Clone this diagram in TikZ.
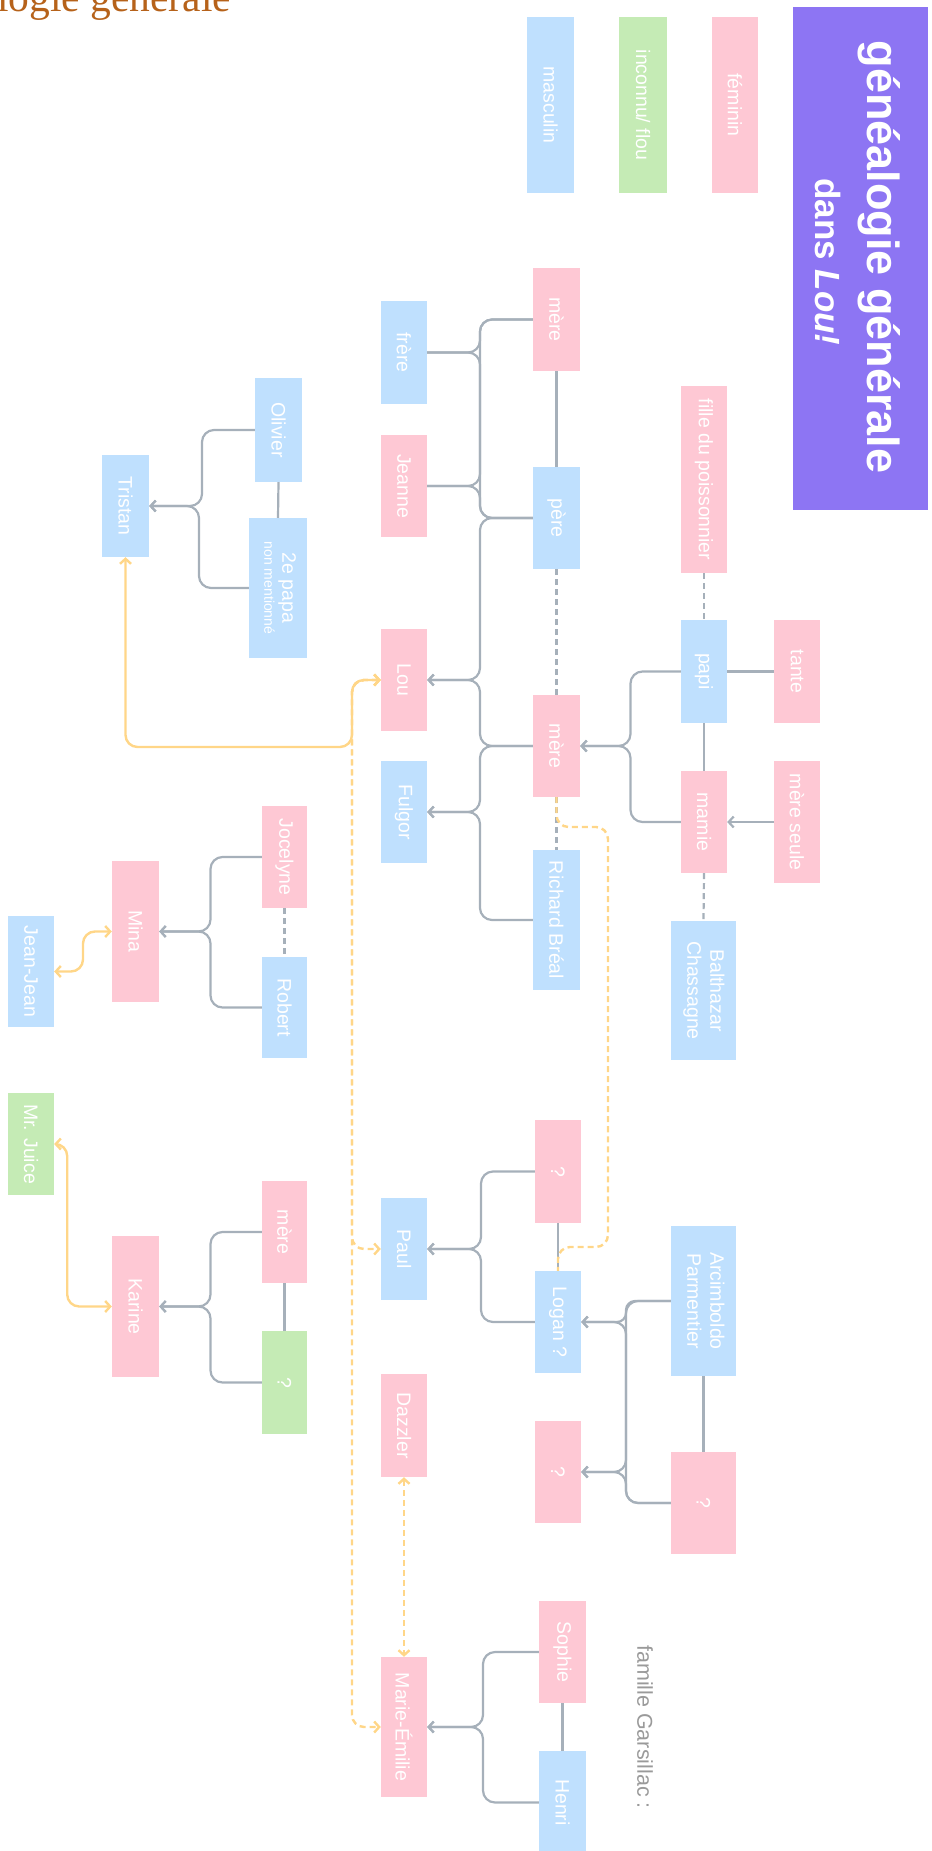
\documentclass[tikz,border=0pt]{standalone}
\usepackage{fontspec}
\setmainfont{Liberation Sans}
\newfontfamily\serifttl{Liberation Serif}
\usetikzlibrary{arrows.meta,calc}
\definecolor{pinkbox}{HTML}{FEC8D4}
\definecolor{bluebox}{HTML}{BFE0FE}
\definecolor{greenbox}{HTML}{C5EBB5}
\definecolor{purplebox}{HTML}{8D75F3}
\definecolor{linegrey}{HTML}{A6B0BA}
\definecolor{linkyellow}{HTML}{FFD688}
\definecolor{titlebrown}{HTML}{B6621A}
\definecolor{notegrey}{HTML}{9A9A9A}
\newcommand\vtxt[1]{\rotatebox{-90}{#1}}
\tikzset{
  pbox/.style={inner sep=0pt, text=white, font=\fontsize{19.5}{23}\selectfont},
  pk/.style={pbox, fill=pinkbox},
  bl/.style={pbox, fill=bluebox},
  gr/.style={pbox, fill=greenbox},
  sz/.style 2 args={minimum width=#1pt, minimum height=#2pt},
  fam/.style={to path={let \p1=(\tikztostart), \p2=(\tikztotarget) in
      -- ({0.5*\x1+0.5*\x2},\y1) -- ({0.5*\x1+0.5*\x2},\y2) -- (\tikztotarget)}},
  gl/.style={draw=linegrey, line width=2.2pt, rounded corners=12pt},
  ga/.style={gl, -{Straight Barb[length=5pt,width=11pt]}},
  gd/.style={draw=linegrey, line width=2.2pt, dash pattern=on 6pt off 4pt},
  yl/.style={draw=linkyellow, line width=2.4pt, rounded corners=12pt},
  y2/.style={yl, {Straight Barb[length=5pt,width=11pt]}-{Straight Barb[length=5pt,width=11pt]}},
  yd/.style={yl, dash pattern=on 6pt off 4pt},
  yd2/.style={yd, {Straight Barb[length=5pt,width=11pt]}-{Straight Barb[length=5pt,width=11pt]}}
}
\begin{document}
\begin{tikzpicture}[x=1pt,y=-1pt]
\useasboundingbox (0,0) rectangle (931,1851);
\clip (0,0) rectangle (931,1851);
% page title (cut off at the top edge, as in the reference)
\node[anchor=base west, text=titlebrown, font=\serifttl\fontsize{41.5}{44}\selectfont, inner sep=0pt] (pagetitle) at (-3,12) {logie générale};
% title box
\node[fill=purplebox, minimum width=135pt, minimum height=503pt, inner sep=0pt] (titlebox) at (860.5,258.5) {};
\node[rotate=-90, text=white, font=\bfseries\fontsize{45}{50}\selectfont, inner sep=0pt] (t1) at (879,257) {généalogie générale};
\node[rotate=-90, text=white, font=\bfseries\fontsize{35}{40}\selectfont, inner sep=0pt] (t2) at (828,262) {dans \textit{Lou!}};
% legend
\node[bl, sz={47}{176}] (masculin) at (550.5,105) {\vtxt{masculin}};
\node[gr, sz={48}{176}] (inconnu) at (643,105) {\vtxt{inconnu/ flou}};
\node[pk, sz={46}{176}] (feminin) at (735,105) {\vtxt{féminin}};
% main family
\node[pk, sz={47}{103}] (mereT) at (556.5,319.5) {\vtxt{mère}};
\node[bl, sz={47}{102}] (pere) at (556.5,518) {\vtxt{père}};
\node[bl, sz={46}{103}] (frere) at (404,352.5) {\vtxt{frère}};
\node[pk, sz={46}{102}] (jeanne) at (404,486) {\vtxt{Jeanne}};
\node[pk, sz={46}{187}] (fille) at (704,479.5) {\vtxt{fille du poissonnier}};
\node[pk, sz={46}{102}] (lou) at (404,680) {\vtxt{Lou}};
\node[bl, sz={46}{102}] (fulgor) at (404,812) {\vtxt{Fulgor}};
\node[pk, sz={47}{102}] (mereM) at (556.5,746) {\vtxt{mère}};
\node[bl, sz={47}{140}] (richard) at (556.5,920) {\vtxt{Richard Bréal}};
\node[bl, sz={46}{103}] (papi) at (704,671.5) {\vtxt{papi}};
\node[pk, sz={46}{103}] (tante) at (797,671.5) {\vtxt{tante}};
\node[pk, sz={46}{102}] (mamie) at (704,822) {\vtxt{mamie}};
\node[pk, sz={46}{122}] (mereSeule) at (797,822) {\vtxt{mère seule}};
\node[bl, sz={65}{139}] (balthazar) at (703.5,990.5) {\vtxt{\begin{tabular}{@{}c@{}}Balthazar\\Chassagne\end{tabular}}};
% Tristan
\node[bl, sz={47}{104}] (olivier) at (278.5,430) {\vtxt{Olivier}};
\node[bl, sz={58}{140}] (papa2) at (278,588) {\vtxt{\begin{tabular}{@{}c@{}}2e papa\\[-5pt]{\fontsize{14}{15}\selectfont non mentionné}\end{tabular}}};
\node[bl, sz={47}{102}] (tristan) at (125.5,506) {\vtxt{Tristan}};
% Mina
\node[pk, sz={45}{102}] (jocelyne) at (284.5,857) {\vtxt{Jocelyne}};
\node[bl, sz={45}{101}] (robert) at (284.5,1007.5) {\vtxt{Robert}};
\node[pk, sz={47}{141}] (mina) at (135.5,931.5) {\vtxt{Mina}};
\node[bl, sz={46}{111}] (jeanjean) at (31,971.5) {\vtxt{Jean-Jean}};
% Karine
\node[gr, sz={46}{102}] (mrjuice) at (31,1144) {\vtxt{Mr. Juice}};
\node[pk, sz={45}{102}] (mereK) at (284.5,1232) {\vtxt{mère}};
\node[gr, sz={45}{103}] (inconnuK) at (284.5,1382.5) {\vtxt{?}};
\node[pk, sz={47}{141}] (karine) at (135.5,1306.5) {\vtxt{Karine}};
% Paul / Logan
\node[pk, sz={46}{103}] (qTop) at (558,1171.5) {\vtxt{?}};
\node[bl, sz={46}{102}] (logan) at (558,1322) {\vtxt{Logan ?}};
\node[bl, sz={46}{102}] (paul) at (404,1249) {\vtxt{Paul}};
\node[pk, sz={46}{103}] (dazzler) at (404,1425.5) {\vtxt{Dazzler}};
\node[pk, sz={46}{102}] (qLow) at (558,1472) {\vtxt{?}};
\node[bl, sz={65}{150}] (arcimboldo) at (703.5,1301) {\vtxt{\begin{tabular}{@{}c@{}}Arcimboldo\\Parmentier\end{tabular}}};
\node[pk, sz={65}{102}] (qRight) at (703.5,1503) {\vtxt{?}};
% Garsillac
\node[pk, sz={46}{140}] (me) at (404,1727) {\vtxt{Marie-Émilie}};
\node[pk, sz={47}{102}] (sophie) at (562.5,1652) {\vtxt{Sophie}};
\node[bl, sz={47}{103}] (henri) at (562.5,1802.5) {\vtxt{Henri}};
\node[rotate=-90, text=notegrey, font=\fontsize{21.5}{24}\selectfont, inner sep=0pt] (note) at (645,1727) {famille Garsillac :};
% helper coordinates
\coordinate (yc1) at (352,747);
\coordinate (yc2) at (352,680);
\coordinate (yc3) at (608,827);
\coordinate (yc4) at (608,1247);
% grey connectors
\draw[gl] (mereT.west) to[fam] (frere.east);
\draw[gl] (mereT.west) to[fam] (jeanne.east);
\draw[gl] (pere.west) to[fam] (frere.east);
\draw[gl] (pere.west) to[fam] (jeanne.east);
\draw[ga] (pere.west) to[fam] (lou.east);
\draw[ga] (mereM.west) to[fam] (lou.east);
\draw[ga] (mereM.west) to[fam] (fulgor.east);
\draw[ga] (richard.west) to[fam] (fulgor.east);
\draw[ga] (papi.west) to[fam] (mereM.east);
\draw[ga] (mamie.west) to[fam] (mereM.east);
\draw[ga] (mereSeule.west) -- (mamie.east);
\draw[gl] (papi.east) -- (tante.west);
\draw[gl] (mereT.south) -- (pere.north);
\draw[gd] (pere.south) -- (mereM.north);
\draw[gd] (mereM.south) -- (richard.north);
\draw[gd] (fille.south) -- (papi.north);
\draw[gl] (papi.south) -- (mamie.north);
\draw[gd] (mamie.south) -- (balthazar.north);
\draw[ga] (olivier.west) to[fam] (tristan.east);
\draw[ga] (papa2.west) to[fam] (tristan.east);
\draw[gl] (olivier.south) -- (papa2.north);
\draw[ga] (jocelyne.west) to[fam] (mina.east);
\draw[ga] (robert.west) to[fam] (mina.east);
\draw[gd] (jocelyne.south) -- (robert.north);
\draw[ga] (mereK.west) to[fam] (karine.east);
\draw[ga] (inconnuK.west) to[fam] (karine.east);
\draw[gl] (mereK.south) -- (inconnuK.north);
\draw[ga] (qTop.west) to[fam] (paul.east);
\draw[ga] (logan.west) to[fam] (paul.east);
\draw[gl] (qTop.south) -- (logan.north);
\draw[ga, rounded corners=9pt] (arcimboldo.west) to[fam] (logan.east);
\draw[ga] (arcimboldo.west) to[fam] (qLow.east);
\draw[ga] (qRight.west) to[fam] (logan.east);
\draw[ga] (qRight.west) to[fam] (qLow.east);
\draw[gl] (arcimboldo.south) -- (qRight.north);
\draw[ga] (sophie.west) to[fam] (me.east);
\draw[ga] (henri.west) to[fam] (me.east);
\draw[gl] (sophie.south) -- (henri.north);
% yellow links
\draw[y2] (tristan.south) |- (yc1) |- (lou.west);
\draw[yd2] (lou.west) -- (yc2) |- (paul.west);
\draw[yd2] (lou.west) -- (yc2) |- (me.west);
\draw[yd2] (dazzler.south) -- (me.north);
\draw[yd] (mereM.south) |- (yc3) -- (yc4) -| (logan.north);
\draw[y2] (mina.west) to[fam] (jeanjean.east);
\draw[y2] (mrjuice.east) -- ++(13,0) |- (karine.west);
\end{tikzpicture}
\end{document}
